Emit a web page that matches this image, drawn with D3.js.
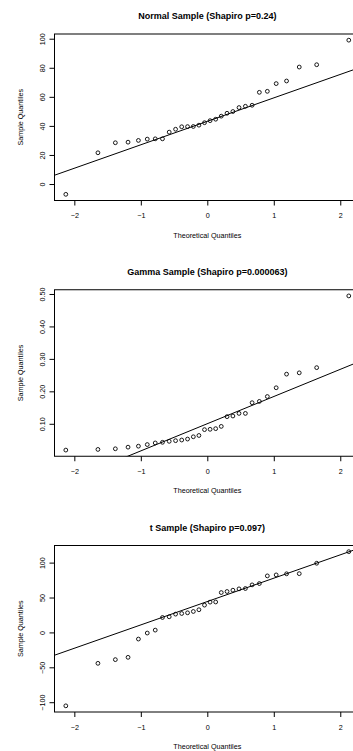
<!DOCTYPE html>
<html><head><meta charset="utf-8">
<script src="https://cdn.jsdelivr.net/npm/d3@7"></script>
<style>
body{margin:0;background:#fff;}
svg{display:block;font-family:"Liberation Sans",Arial,Helvetica,sans-serif;}
</style>
</head><body>
<svg id="c" width="353" height="751"></svg>
<script>
// Theoretical normal quantiles for n = 30
const theoretical = [-2.128, -1.645, -1.383, -1.192, -1.036, -0.903, -0.783, -0.674, -0.573, -0.477,
  -0.385, -0.297, -0.210, -0.126, -0.042, 0.042, 0.126, 0.210, 0.297, 0.385,
  0.477, 0.573, 0.674, 0.783, 0.903, 1.036, 1.192, 1.383, 1.645, 2.128];

const normalSample = [-7.1, 21.5, 28.4, 28.8, 30.0, 30.9, 31.1, 31.1, 35.7, 37.7,
  39.4, 39.5, 39.6, 40.5, 42.2, 43.6, 44.6, 46.7, 48.7, 49.9,
  52.6, 53.5, 54.2, 63.1, 63.8, 69.1, 70.9, 80.5, 82.1, 99.0];

const gammaSample = [0.019, 0.021, 0.023, 0.028, 0.031, 0.036, 0.041, 0.043, 0.046, 0.048,
  0.050, 0.053, 0.060, 0.064, 0.082, 0.083, 0.085, 0.092, 0.122, 0.124,
  0.132, 0.132, 0.165, 0.169, 0.184, 0.211, 0.253, 0.257, 0.273, 0.494];

const tSample = [-105.2, -44.3, -39.0, -35.7, -9.5, -0.9, 3.3, 21.4, 22.4, 26.2,
  27.1, 28.1, 30.0, 32.5, 39.1, 43.4, 43.6, 57.1, 58.6, 60.5,
  62.4, 62.9, 68.1, 70.0, 81.0, 82.4, 84.0, 84.2, 99.1, 115.7];

const panelTitles = ["Normal Sample (Shapiro p=0.24)", "Gamma Sample (Shapiro p=0.000063)", "t Sample (Shapiro p=0.097)"];
const xTicks = [-2, -1, 0, 1, 2];
const yTicksNormal = [0, 20, 40, 60, 80, 100];
const yTicksGamma = [0.1, 0.2, 0.3, 0.4, 0.5];
const yTicksT = [-100, -50, 0, 50, 100];
const xLabel = "Theoretical Quantiles";
const yLabel = "Sample Quantiles";
const quartileProbs = [0.25, 0.75];
const normalQuartiles = [-0.6745, 0.6745];

const panels = [
  {title: panelTitles[0], values: normalSample, yTicks: yTicksNormal},
  {title: panelTitles[1], values: gammaSample, yTicks: yTicksGamma},
  {title: panelTitles[2], values: tSample, yTicks: yTicksT}
];

const svg = d3.select("#c");
const left = 54.5, right = 360.1;
const firstTop = 34, step = 255.75, plotH = 166.5;

function extend(ext) {
  const r = ext[1] - ext[0];
  return [ext[0] - 0.04 * r, ext[1] + 0.04 * r];
}

panels.forEach((p, k) => {
  const top = firstTop + k * step, bottom = top + plotH;
  const x = d3.scaleLinear().domain(extend(d3.extent(theoretical))).range([left, right]);
  const sorted = p.values.slice().sort(d3.ascending);
  const y = d3.scaleLinear().domain(extend(d3.extent(sorted))).range([bottom, top]);
  const g = svg.append("g");

  const clipId = "clip" + k;
  svg.append("clipPath").attr("id", clipId).append("rect")
    .attr("x", left).attr("y", top).attr("width", right - left).attr("height", plotH);

  // title
  g.append("text").attr("x", (left + right) / 2).attr("y", top - 15)
    .attr("text-anchor", "middle").attr("font-weight", "bold").attr("font-size", 9)
    .attr("fill", "#000").text(p.title);

  // qq line through quartiles
  const q = quartileProbs.map(pr => d3.quantile(sorted, pr));
  const slope = (q[1] - q[0]) / (normalQuartiles[1] - normalQuartiles[0]);
  const icpt = q[0] - slope * normalQuartiles[0];
  const xd = x.domain();
  g.append("line").attr("clip-path", `url(#${clipId})`)
    .attr("x1", x(xd[0])).attr("y1", y(icpt + slope * xd[0]))
    .attr("x2", x(xd[1])).attr("y2", y(icpt + slope * xd[1]))
    .attr("stroke", "#000").attr("stroke-width", 1);

  // points
  g.append("g").selectAll("circle").data(sorted).join("circle")
    .attr("cx", (d, i) => x(theoretical[i])).attr("cy", d => y(d))
    .attr("r", 1.9).attr("fill", "none").attr("stroke", "#000").attr("stroke-width", 0.9);

  // box
  g.append("rect").attr("x", left).attr("y", top).attr("width", right - left).attr("height", plotH)
    .attr("fill", "none").attr("stroke", "#000").attr("stroke-width", 1);

  // x axis
  const xa = g.append("g").attr("transform", `translate(0,${bottom})`)
    .call(d3.axisBottom(x).tickValues(xTicks).tickSize(5).tickFormat(d3.format("d")));
  xa.select(".domain").remove();
  xa.selectAll(".tick line").attr("stroke", "#000");
  xa.selectAll(".tick text").attr("y", 17.5).attr("dy", 0).attr("font-size", 7.2)
    .attr("font-family", null).attr("fill", "#000");

  // y axis
  const ya = g.append("g").attr("transform", `translate(${left},0)`)
    .call(d3.axisLeft(y).tickValues(p.yTicks).tickSize(5));
  ya.select(".domain").remove();
  ya.selectAll(".tick line").attr("stroke", "#000");
  ya.selectAll(".tick text").attr("transform", "rotate(-90)")
    .attr("x", 0).attr("y", -10).attr("dy", 0).attr("text-anchor", "middle")
    .attr("font-size", 7.2).attr("font-family", null).attr("fill", "#000");

  // axis titles
  g.append("text").attr("x", (left + right) / 2).attr("y", bottom + 37)
    .attr("text-anchor", "middle").attr("font-size", 7.2).attr("fill", "#000").text(xLabel);
  const cy = (top + bottom) / 2;
  g.append("text").attr("transform", `translate(22.6,${cy}) rotate(-90)`)
    .attr("text-anchor", "middle").attr("font-size", 7.2).attr("fill", "#000").text(yLabel);
});
</script>
</body></html>
